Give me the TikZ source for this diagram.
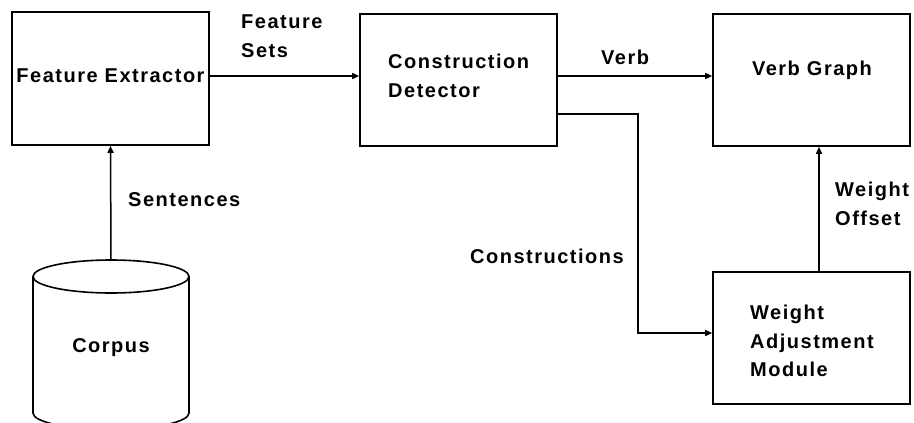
\documentclass[tikz,border=0pt]{standalone}
\usepackage{fontspec}
\usetikzlibrary{arrows.meta}
\newfontfamily\labfont[LetterSpace=7.5]{Liberation Sans}
\begin{document}
\begin{tikzpicture}[x=1pt,y=-1pt,
  box/.style={draw, line width=1.6pt, minimum width=197pt, minimum height=132pt, inner sep=0pt},
  txt/.style={font=\labfont\bfseries\fontsize{20}{28.5}\selectfont, inner sep=0pt, align=left},
  arr/.style={line width=1.5pt, -{Triangle[length=7pt,width=6pt]}}]
\useasboundingbox (0,0) rectangle (914,423);
% boxes
\node[box, minimum height=133pt] (fe) at (110.5,78.5) {};
\node[box] (cd) at (458.5,80) {};
\node[box] (vg) at (811.5,80) {};
\node[box] (wam) at (811.5,338) {};
% texts inside boxes
\node[txt] (fet) at (110.5,76) {Feature Extractor};
\node[txt, anchor=west] (cdt) at (388,76) {Construction\\Detector};
\node[txt] (vgt) at (812,70) {Verb Graph};
\node[txt, anchor=west] (wamt) at (750,341) {Weight\\Adjustment\\Module};
% corpus cylinder
\node[minimum width=156pt, minimum height=176pt, inner sep=0pt] (corpus) at (111,348) {};
\node[txt] (corpust) at (111,348) {Corpus};
\draw[line width=1.6pt] (111,276.5) ellipse [x radius=78, y radius=16.5];
\draw[line width=1.6pt] (33,276.5) -- (33,413) arc[start angle=180, end angle=0, x radius=78, y radius=16.5] -- (189,276.5);
% connectors
\draw[arr] ([yshift=2.5pt]fe.east) -- ([yshift=2.5pt]fe.east -| cd.west);
\draw[arr] ([yshift=4pt]cd.east) -- ([yshift=4pt]cd.east -| vg.west);
\draw[arr] ([yshift=-34pt]cd.east) -- ++(80,0) |- ([yshift=5pt]wam.west);
\draw[arr] (corpus.north) -- (fe.south);
\draw[arr] ([xshift=7.5pt]wam.north) -- ([xshift=7.5pt]vg.south);
% connector labels
\node[txt, anchor=west] (fs) at (241,36) {Feature\\Sets};
\node[txt, anchor=west] (vl) at (601,57) {Verb};
\node[txt, anchor=west] (sl) at (128,200) {Sentences};
\node[txt, anchor=west] (cl) at (470,256) {Constructions};
\node[txt, anchor=west] (wo) at (835,204) {Weight\\Offset};
\end{tikzpicture}
\end{document}
